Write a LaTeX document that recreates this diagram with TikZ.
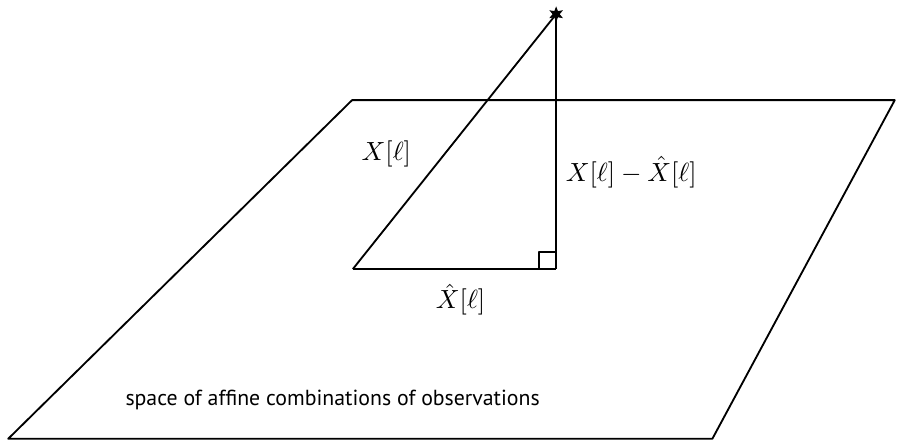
\documentclass[tikz,border=0pt]{standalone}
\usepackage{amsmath,amssymb}
\usepackage{fontspec}
\setsansfont{PT Sans}
\usetikzlibrary{shapes.geometric, positioning, calc}

\begin{document}
\begin{tikzpicture}[line width=0.7pt, line join=round]

        \useasboundingbox (0,0) rectangle (12,5.9);

        % Plane of affine combinations
        \coordinate (pbl) at (0.11,0.03);
        \coordinate (pbr) at (9.53,0.03);
        \coordinate (ptr) at (11.97,4.56);
        \coordinate (ptl) at (4.71,4.56);
        \draw (pbl) -- (pbr) -- (ptr) -- (ptl) -- cycle;

        % Triangle points
        \coordinate (orig) at (4.72,2.30);
        \coordinate (proj) at (7.44,2.30);
        \node[star, star points=6, star point ratio=2.2, fill, inner sep=0pt, minimum size=6pt] (obs) at (7.44,5.71) {};

        % Triangle
        \draw (orig) -- node[pos=0.45, left=9pt] {$X[\ell]$} (obs.center);
        \draw (obs.center) -- node[pos=0.62, right=0pt] {$X[\ell] - \hat{X}[\ell]$} (proj);
        \draw (orig) -- node[pos=0.53, below=2pt] {$\hat{X}[\ell]$} (proj);

        % Right angle mark
        \draw ($(proj)+(-0.23,0)$) -- ++(0,0.23) -- ++(0.23,0);

        % Plane label
        \node[font=\sffamily\fontsize{8.3}{10}\selectfont] (lbl) at (4.45,0.55) {space of affine combinations of observations};
  \end{tikzpicture}
\end{document}
